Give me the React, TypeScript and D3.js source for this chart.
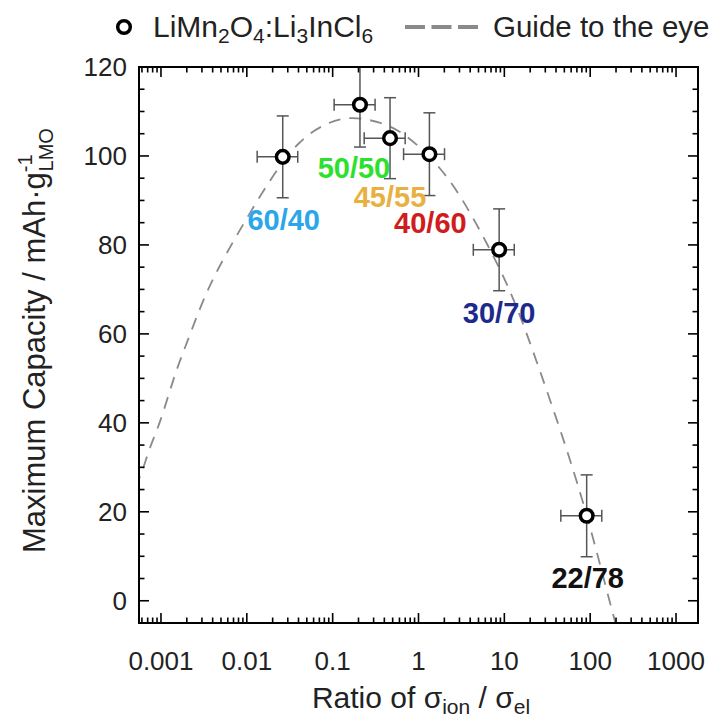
import React from 'react';
import * as d3 from 'd3';

// ---- data ----
const ratios = [0.0262, 0.208, 0.466, 1.34, 8.7, 91];
const capacities = [99.8, 111.5, 104, 100.4, 78.9, 19.1];
const ratioErr = [0.013, 0.104, 0.233, 0.67, 4.35, 45.5];
const capErr = [9.2, 9.5, 9.1, 9.3, 9.2, 9.2];
const compositions = ['60/40', '50/50', '45/55', '40/60', '30/70', '22/78'];
const compositionColors = ['#2ba6e8', '#2ee02e', '#e8b040', '#cf1c1c', '#1c2a8c', '#111111'];

const guideX = [0.0005, 0.0006, 0.00074, 0.00098, 0.00145, 0.002, 0.0034, 0.0067, 0.0204, 0.0413, 0.0807, 0.158, 0.352, 0.66, 1.84, 3.92, 10.5, 17.8, 57, 105, 174, 214];
const guideY = [25.5, 28.7, 34.6, 39.9, 51.1, 57.9, 69.9, 80.4, 96.1, 103.6, 107.3, 109, 107.7, 105.5, 97.6, 87.9, 72.1, 60.9, 32.8, 15.3, -1.3, -7.5];

const xTicks = [0.001, 0.01, 0.1, 1, 10, 100, 1000];
const xTickLabels = ['0.001', '0.01', '0.1', '1', '10', '100', '1000'];
const yTicks = [0, 20, 40, 60, 80, 100, 120];
const yTickLabels = ['0', '20', '40', '60', '80', '100', '120'];

// ---- layout / style ----
const W = 721, H = 725;
const L = 139, R = 698, T = 67, B = 623;
const FONT = '"Liberation Sans", Arial, Helvetica, sans-serif';
// label offsets (px) from each point
const labelOffsets = [[1, 73], [-6, 73], [0, 69], [1, 79], [0, 73], [1, 72]];

export default function App() {
  const x = d3.scaleLog().domain([Math.pow(10, -3.256), Math.pow(10, 3.256)]).range([L, R]);
  const y = d3.scaleLinear().domain([-5, 120]).range([B, T]);

  const minorX: number[] = [];
  for (let e = -4; e <= 3; e++) {
    for (let m = 2; m <= 9; m++) {
      const v = m * Math.pow(10, e);
      if (v > x.domain()[0] && v < x.domain()[1]) minorX.push(v);
    }
  }
  const minorY: number[] = d3.range(-5, 121, 5).filter((v) => v % 20 !== 0 && v > -5);

  const line = d3
    .line<number>()
    .x((_, i) => x(guideX[i]))
    .y((_, i) => y(guideY[i]))
    .curve(d3.curveBasis);
  const guidePath = line(guideX) || '';

  const majorLen = 10, minorLen = 5.5;
  const errColor = '#555';
  const cap = 6;

  return (
    <svg width={W} height={H} style={{ position: 'absolute', left: 0, top: 0, background: '#fff' }} fontFamily={FONT}>
      <defs>
        <clipPath id="plotClip">
          <rect x={L} y={T} width={R - L} height={B - T} />
        </clipPath>
      </defs>
      <rect x={0} y={0} width={W} height={H} fill="#fff" />

      {/* guide curve */}
      <path d={guidePath} fill="none" stroke="#8a8a8a" strokeWidth={1.8} strokeDasharray="12,9" clipPath="url(#plotClip)" />

      {/* error bars */}
      <g clipPath="url(#plotClip)" stroke={errColor} strokeWidth={1.5}>
        {ratios.map((r, i) => {
          const cx = x(r), cy = y(capacities[i]);
          const y1 = y(capacities[i] + capErr[i]), y2 = y(capacities[i] - capErr[i]);
          const x1 = x(r - ratioErr[i]), x2 = x(r + ratioErr[i]);
          return (
            <g key={i}>
              <line x1={cx} x2={cx} y1={y1} y2={y2} />
              <line x1={cx - cap} x2={cx + cap} y1={y1} y2={y1} />
              <line x1={cx - cap} x2={cx + cap} y1={y2} y2={y2} />
              <line x1={x1} x2={x2} y1={cy} y2={cy} />
              <line x1={x1} x2={x1} y1={cy - cap} y2={cy + cap} />
              <line x1={x2} x2={x2} y1={cy - cap} y2={cy + cap} />
            </g>
          );
        })}
      </g>

      {/* points */}
      {ratios.map((r, i) => (
        <circle key={i} cx={x(r)} cy={y(capacities[i])} r={6.3} fill="#fff" stroke="#000" strokeWidth={3.5} />
      ))}

      {/* composition labels */}
      {ratios.map((r, i) => (
        <text
          key={i}
          x={x(r) + labelOffsets[i][0]}
          y={y(capacities[i]) + labelOffsets[i][1]}
          textAnchor="middle"
          fontWeight="bold"
          fontSize={29}
          fill={compositionColors[i]}
        >
          {compositions[i]}
        </text>
      ))}

      {/* frame */}
      <rect x={L} y={T} width={R - L} height={B - T} fill="none" stroke="#000" strokeWidth={2} />

      {/* ticks */}
      <g stroke="#000" strokeWidth={1.6}>
        {xTicks.map((v) => (
          <g key={'xm' + v}>
            <line x1={x(v)} x2={x(v)} y1={B} y2={B - majorLen} />
            <line x1={x(v)} x2={x(v)} y1={T} y2={T + majorLen} />
          </g>
        ))}
        {minorX.map((v) => (
          <g key={'xn' + v}>
            <line x1={x(v)} x2={x(v)} y1={B} y2={B - minorLen} />
            <line x1={x(v)} x2={x(v)} y1={T} y2={T + minorLen} />
          </g>
        ))}
        {yTicks.map((v) => (
          <g key={'ym' + v}>
            <line x1={L} x2={L + majorLen} y1={y(v)} y2={y(v)} />
            <line x1={R} x2={R - majorLen} y1={y(v)} y2={y(v)} />
          </g>
        ))}
        {minorY.map((v) => (
          <g key={'yn' + v}>
            <line x1={L} x2={L + minorLen} y1={y(v)} y2={y(v)} />
            <line x1={R} x2={R - minorLen} y1={y(v)} y2={y(v)} />
          </g>
        ))}
      </g>

      {/* tick labels */}
      {xTicks.map((v, i) => (
        <text key={'xl' + v} x={x(v)} y={670} textAnchor="middle" fontSize={26} fill="#222">
          {xTickLabels[i]}
        </text>
      ))}
      {yTicks.map((v, i) => (
        <text key={'yl' + v} x={127} y={y(v) + 9} textAnchor="end" fontSize={26} fill="#222">
          {yTickLabels[i]}
        </text>
      ))}

      {/* axis titles */}
      <text x={421} y={708} textAnchor="middle" fontSize={30} fill="#222">
        Ratio of σ<tspan fontSize={21} dy={6}>ion</tspan>
        <tspan dy={-6}> / σ</tspan>
        <tspan fontSize={21} dy={6}>el</tspan>
      </text>
      <text transform="translate(45,553) rotate(-90)" textAnchor="start" fontSize={31} fill="#222">
        Maximum Capacity / mAh·g
        <tspan fontSize={20} dy={-13}>-1</tspan>
        <tspan fontSize={20} dx={-17} dy={21}>LMO</tspan>
      </text>

      {/* legend */}
      <circle cx={124} cy={27} r={6.3} fill="#fff" stroke="#000" strokeWidth={3.5} />
      <text x={153} y={37} fontSize={30} fill="#222">
        LiMn<tspan fontSize={21} dy={6}>2</tspan>
        <tspan dy={-6}>O</tspan>
        <tspan fontSize={21} dy={6}>4</tspan>
        <tspan dy={-6}>:Li</tspan>
        <tspan fontSize={21} dy={6}>3</tspan>
        <tspan dy={-6}>InCl</tspan>
        <tspan fontSize={21} dy={6}>6</tspan>
      </text>
      <line x1={405} x2={478} y1={27} y2={27} stroke="#8a8a8a" strokeWidth={4} strokeDasharray="20,6.5" />
      <text x={493} y={37} fontSize={29.5} fill="#222">
        Guide to the eye
      </text>
    </svg>
  );
}
